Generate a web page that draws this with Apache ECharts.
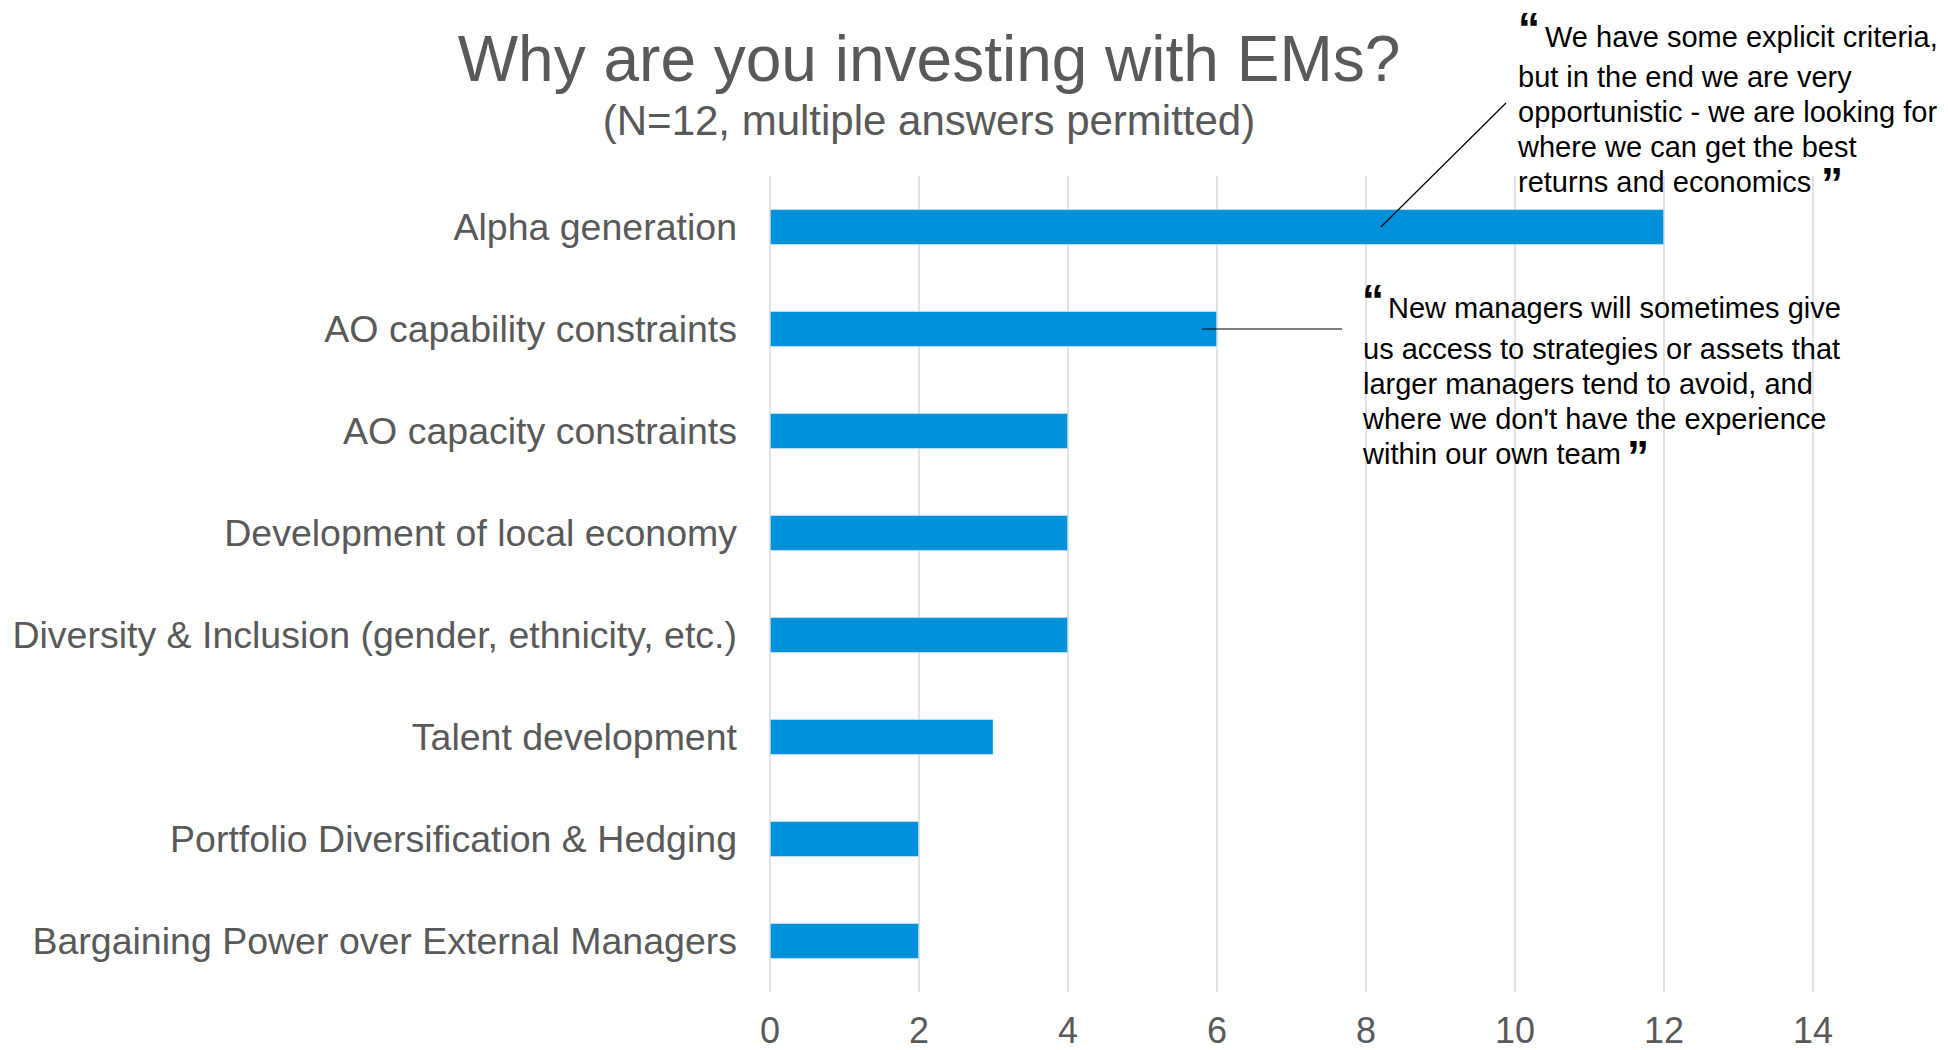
<!DOCTYPE html>
<html>
<head>
<meta charset="utf-8">
<style>
  html, body { margin: 0; padding: 0; background: #ffffff; }
  #chart { width: 1948px; height: 1050px; }
</style>
<script src="https://cdn.jsdelivr.net/npm/echarts@6/dist/echarts.min.js"></script>
</head>
<body>
<div id="chart"></div>
<script>
// Survey responses: reasons for investing with emerging managers
const categories = [
  'Alpha generation',
  'AO capability constraints',
  'AO capacity constraints',
  'Development of local economy',
  'Diversity & Inclusion (gender, ethnicity, etc.)',
  'Talent development',
  'Portfolio Diversification & Hedging',
  'Bargaining Power over External Managers'
];
const counts = [12, 6, 4, 4, 4, 3, 2, 2];
const xTicks = { min: 0, max: 14, interval: 2 };

const titleText = 'Why are you investing with EMs?';
const subtitleText = '(N=12, multiple answers permitted)';

const quoteAlpha = [
  'We have some explicit criteria,',
  'but in the end we are very',
  'opportunistic - we are looking for',
  'where we can get the best',
  'returns and economics'
];
const quoteCapability = [
  'New managers will sometimes give',
  'us access to strategies or assets that',
  'larger managers tend to avoid, and',
  "where we don't have the experience",
  'within our own team'
];
// where each callout's leader line touches its bar (value, category)
const anchorAlpha = [8.2, 'Alpha generation'];
const anchorCapability = [5.8, 'AO capability constraints'];

const FONT = '"Liberation Sans", Arial, Helvetica, sans-serif';
const GREY = '#595959';
const BLUE = '#0091DA';

const chart = echarts.init(document.getElementById('chart'), null, { renderer: 'svg' });

chart.setOption({
  animation: false,
  backgroundColor: '#ffffff',
  grid: { left: 770, right: 135, top: 176, bottom: 58, containLabel: false },
  xAxis: {
    type: 'value',
    min: xTicks.min,
    max: xTicks.max,
    interval: xTicks.interval,
    axisLine: { show: false },
    axisTick: { show: false },
    splitLine: { show: true, lineStyle: { color: '#d9d9d9', width: 1.5 } },
    axisLabel: { fontFamily: FONT, fontSize: 36, color: GREY, margin: 21, lineHeight: 34 }
  },
  yAxis: {
    type: 'category',
    data: categories,
    inverse: true,
    axisLine: { show: false },
    axisTick: { show: false },
    splitLine: { show: false },
    axisLabel: { fontFamily: FONT, fontSize: 37.5, color: GREY, margin: 33 }
  },
  series: [{
    type: 'bar',
    data: counts,
    barWidth: '35%',
    itemStyle: { color: BLUE, borderColor: 'rgba(255,255,255,0.5)', borderWidth: 0.8 },
    silent: true
  }]
});

function textEl(text, x, y, font, fill, align) {
  return {
    type: 'text',
    silent: true,
    z: 20,
    style: { text: text, x: x, y: y, font: font, fill: fill, align: align || 'left', verticalAlign: 'middle' }
  };
}

function quoteBlock(lines, firstX, firstY, restX, restY, lineGap) {
  const els = [textEl(lines[0], firstX, firstY, '29px ' + FONT, '#000000')];
  for (let i = 1; i < lines.length; i++) {
    els.push(textEl(lines[i], restX, restY + (i - 1) * lineGap, '29px ' + FONT, '#000000'));
  }
  return els;
}

const markFont = 'bold 44px ' + FONT;
const pA = chart.convertToPixel({ gridIndex: 0 }, anchorAlpha);
const pC = chart.convertToPixel({ gridIndex: 0 }, anchorCapability);

const elements = [
  textEl(titleText, 929, 59, '64px ' + FONT, GREY, 'center'),
  textEl(subtitleText, 929, 120, '42px ' + FONT, GREY, 'center'),

  // callout for the top bar
  textEl('\u201C', 1518, 28, markFont, '#000000'),
  ...quoteBlock(quoteAlpha, 1545, 37, 1518, 77, 35),
  textEl('\u201D', 1821, 183, markFont, '#000000'),
  { type: 'line', silent: true, z: 20,
    shape: { x1: pA[0], y1: pA[1], x2: 1506, y2: 103 },
    style: { stroke: '#000000', lineWidth: 1.2 } },

  // callout for the second bar
  textEl('\u201C', 1362, 300, markFont, '#000000'),
  ...quoteBlock(quoteCapability, 1388, 308, 1363, 349, 35),
  textEl('\u201D', 1627, 456, markFont, '#000000'),
  { type: 'line', silent: true, z: 20,
    shape: { x1: pC[0], y1: pC[1], x2: 1342, y2: pC[1] },
    style: { stroke: '#000000', lineWidth: 1.2 } }
];

chart.setOption({ graphic: { elements: elements } });
</script>
</body>
</html>
